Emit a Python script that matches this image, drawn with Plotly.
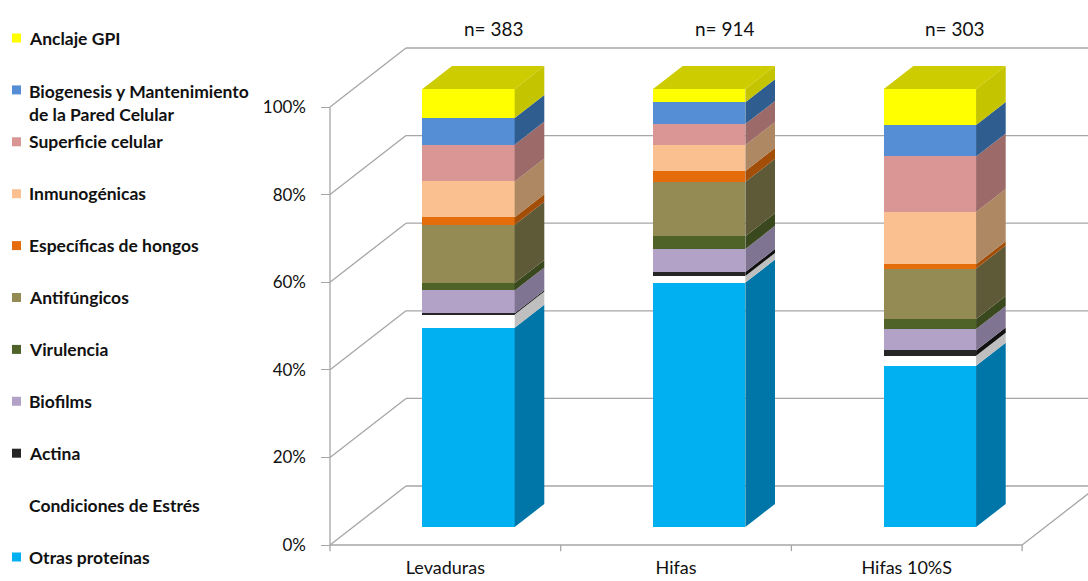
import plotly.graph_objects as go

# ---------------- data ----------------
categories = ["Levaduras", "Hifas", "Hifas 10%S"]
counts = ["n= 383", "n= 914", "n= 303"]

# stacked from bottom to top (percent of proteins)
otras = [45.5, 55.8, 36.8]
estres = [3.0, 1.5, 2.3]
actina = [0.3, 0.9, 1.2]
biofilms = [5.2, 5.3, 4.9]
virulencia = [1.7, 2.9, 2.3]
antifungicos = [13.3, 12.4, 11.5]
especificas = [1.7, 2.5, 1.0]
inmunogenicas = [8.2, 5.9, 11.9]
superficie = [8.4, 4.8, 12.7]
biogenesis = [6.1, 5.0, 7.2]
gpi = [6.6, 3.0, 8.2]

series_names = ["Otras proteínas", "Condiciones de Estrés", "Actina", "Biofilms",
                "Virulencia", "Antifúngicos", "Específicas de hongos", "Inmunogénicas",
                "Superficie celular", "Biogenesis y Mantenimiento<br>de la Pared Celular",
                "Anclaje GPI"]
series_values = [otras, estres, actina, biofilms, virulencia, antifungicos,
                 especificas, inmunogenicas, superficie, biogenesis, gpi]

y_ticks = [0, 20, 40, 60, 80, 100]
y_ticktext = ["0%", "20%", "40%", "60%", "80%", "100%"]

# ---------------- styles ----------------
front_colors = ["#00B0F0", "#FFFFFF", "#262626", "#B3A2C7", "#4F6228", "#948A54",
                "#E46C0A", "#FAC090", "#D99694", "#558ED5", "#FFFF00"]
side_colors = ["#0076A8", "#BFBFBF", "#111111", "#807493", "#3A481E", "#5E5937",
               "#A34E08", "#AD8862", "#9C6B69", "#2F5D90", "#C4C400"]
legend_colors = ["#00B0F0", "#FFFFFF", "#262626", "#B3A2C7", "#4F6228", "#948A54",
                 "#E46C0A", "#FAC090", "#D99694", "#558ED5", "#FFFF00"]
top_color = "#CCCC00"
grid_color = "#A6A6A6"
text_color = "#111111"
FONT = "Lato"

# oblique projection (in axis units)
DEPTH_X = 0.3294      # full depth of the floor, x units
DEPTH_Y = 13.47       # full depth of the floor, percent units
BAR_Z0 = 0.305        # depth of bar front face
BAR_DZ = 0.39         # depth of bar
BAR_W = 0.40

W, H = 1088, 581
ML, MR, MT, MB = 321, 0, 40, 27
PX_X = 230.7
PX_Y = 4.38
x_min = (ML - 330) / PX_X
x_max = (W - 330) / PX_X
y_max = (545 - MT) / PX_Y
y_min = y_max - (H - MT - MB) / PX_Y

fx = BAR_Z0 * DEPTH_X
fy = BAR_Z0 * DEPTH_Y
sx = BAR_DZ * DEPTH_X
sy = BAR_DZ * DEPTH_Y

centers = [i + 0.5 for i in range(len(categories))]

fig = go.Figure()

cum = [0.0] * len(categories)
for name, vals, fc, sc in zip(series_names, series_values, front_colors, side_colors):
    bases = [c + fy for c in cum]
    fig.add_trace(go.Bar(
        x=[c + fx for c in centers], y=vals, base=bases, width=BAR_W,
        marker=dict(color=fc, line=dict(width=0)), name=name,
        showlegend=False, hoverinfo="skip"))
    xs, ys = [], []
    for c, b, v in zip(centers, cum, vals):
        xr = c + fx + BAR_W / 2
        y0 = b + fy
        y1 = b + v + fy
        xs += [xr, xr + sx, xr + sx, xr, xr, None]
        ys += [y0, y0 + sy, y1 + sy, y1, y0, None]
    fig.add_trace(go.Scatter(x=xs, y=ys, mode="lines", fill="toself", fillcolor=sc,
                             line=dict(width=0, color=sc), showlegend=False,
                             hoverinfo="skip"))
    cum = [a + v for a, v in zip(cum, vals)]

# top faces
xs, ys = [], []
for c, t in zip(centers, cum):
    xl = c + fx - BAR_W / 2
    xr = c + fx + BAR_W / 2
    yt = t + fy
    xs += [xl, xr, xr + sx, xl + sx, xl, None]
    ys += [yt, yt, yt + sy, yt + sy, yt, None]
fig.add_trace(go.Scatter(x=xs, y=ys, mode="lines", fill="toself", fillcolor=top_color,
                         line=dict(width=0, color=top_color), showlegend=False,
                         hoverinfo="skip"))

# walls / grid (shapes below traces)
shapes = []
gl = dict(color=grid_color, width=1.3)
for v in y_ticks:
    shapes.append(dict(type="line", xref="x", yref="y", x0=0, y0=v, x1=DEPTH_X,
                       y1=v + DEPTH_Y, line=gl, layer="below"))
    shapes.append(dict(type="line", xref="x", yref="y", x0=DEPTH_X, y0=v + DEPTH_Y,
                       x1=len(categories) + DEPTH_X, y1=v + DEPTH_Y, line=gl, layer="below"))
shapes.append(dict(type="line", xref="x", yref="y", x0=0, y0=0, x1=0, y1=y_ticks[-1],
                   line=gl, layer="below"))
shapes.append(dict(type="line", xref="x", yref="y", x0=0, y0=0, x1=len(categories), y1=0,
                   line=gl, layer="below"))
shapes.append(dict(type="line", xref="x", yref="y", x0=len(categories), y0=0,
                   x1=len(categories) + DEPTH_X, y1=DEPTH_Y, line=gl, layer="below"))
for k in range(len(categories) + 1):
    shapes.append(dict(type="line", xref="x", yref="y", x0=k, y0=0, x1=k, y1=-1.4,
                       line=gl, layer="below"))

annotations = []
# n= labels
for c, t in zip(centers, counts):
    annotations.append(dict(x=c + 0.21, y=(H - MB - 28) / (H - MT - MB), xref="x",
                            yref="paper", text=t, showarrow=False,
                            font=dict(family=FONT, size=19, color=text_color),
                            xanchor="center", yanchor="middle"))

# legend (left column), top to bottom
def px_to_paper_x(px):
    return (px - ML) / (W - ML - MR)

def px_to_paper_y(py):
    return (H - MB - py) / (H - MT - MB)

leg_top = 38
leg_step = 51.9
for k, idx in enumerate(reversed(range(len(series_names)))):
    cy = leg_top + k * leg_step
    name = series_names[idx]
    nlines = name.count("<br>") + 1
    if legend_colors[idx].upper() != "#FFFFFF":
        shapes.append(dict(type="rect", xref="paper", yref="paper",
                           x0=px_to_paper_x(12), x1=px_to_paper_x(21),
                           y0=px_to_paper_y(cy - 4.5), y1=px_to_paper_y(cy + 4.5),
                           fillcolor=legend_colors[idx], line=dict(width=0)))
    annotations.append(dict(x=px_to_paper_x(27), y=px_to_paper_y(cy + (nlines - 1) * 13),
                            xref="paper", yref="paper", text=name, showarrow=False,
                            xanchor="left", yanchor="middle", align="left",
                            font=dict(family=FONT, size=17.5, color=text_color, weight="bold")))

fig.update_layout(
    width=W, height=H,
    margin=dict(l=ML, r=MR, t=MT, b=MB, pad=0, autoexpand=False),
    paper_bgcolor="white", plot_bgcolor="white",
    barmode="overlay", bargap=0,
    showlegend=False,
    shapes=shapes, annotations=annotations,
    font=dict(family=FONT, size=17, color=text_color),
    xaxis=dict(range=[x_min, x_max], tickvals=centers, ticktext=categories,
               showgrid=False, zeroline=False, showline=False, ticks="",
               automargin=False,
               ticklabelstandoff=1, tickfont=dict(family=FONT, size=18, color=text_color)),
    yaxis=dict(range=[y_min, y_max], tickvals=y_ticks, ticktext=y_ticktext,
               showgrid=False, zeroline=False, showline=False, ticks="inside",
               automargin=False,
               ticklen=9, tickcolor=grid_color, tickwidth=1.3, ticklabelstandoff=14,
               tickfont=dict(family=FONT, size=17, color=text_color)),
)

fig.write_html("out.html")
